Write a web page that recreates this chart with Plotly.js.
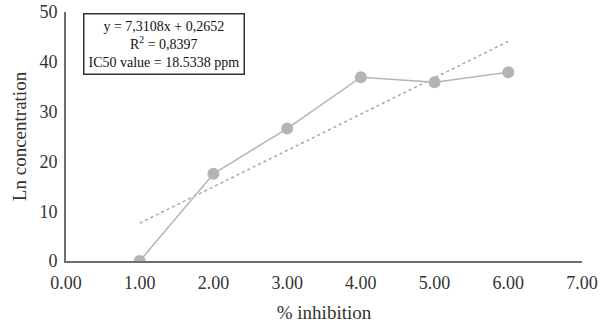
<!DOCTYPE html>
<html><head><meta charset="utf-8">
<script src="https://cdn.plot.ly/plotly-3.0.1.min.js"></script>
<style>body{margin:0;background:#fff}#c{width:600px;height:326px}</style>
</head><body><div id="c"></div>
<script>
const xVals = [1, 2, 3, 4, 5, 6];
const yVals = [0, 17.5, 26.6, 36.9, 35.9, 37.9];
const trendX = [1, 6];
const trendY = [7.6, 44.1];
const xTicks = [0, 1, 2, 3, 4, 5, 6, 7];
const xTickText = ["0.00","1.00","2.00","3.00","4.00","5.00","6.00","7.00"];
const yTicks = [0, 10, 20, 30, 40, 50];
const boxText = "y = 7,3108x + 0,2652<br>R<sup>2</sup> = 0,8397<br>IC50 value = 18.5338 ppm";

const font = "Liberation Serif, Times New Roman, serif";
const data = [
  {x: trendX, y: trendY, mode: 'lines', line: {color: '#a6a6a6', width: 1.5, dash: 'dot'}, hoverinfo: 'skip'},
  {x: xVals, y: yVals, mode: 'lines+markers', line: {color: '#b4b4b4', width: 1.5},
   marker: {color: '#b4b4b4', size: 12}}
];
const layout = {
  width: 600, height: 326,
  margin: {l: 66, r: 18, t: 12, b: 65},
  paper_bgcolor: '#fff', plot_bgcolor: '#fff',
  showlegend: false,
  font: {family: font, color: '#333', size: 18},
  xaxis: {range: [0, 7], tickvals: xTicks, ticktext: xTickText, showgrid: false, zeroline: false,
    showline: true, linecolor: '#6e6e6e', linewidth: 2, ticks: '', ticklen: 0, ticklabelstandoff: 4,
    tickfont: {size: 18, family: font, color: '#333'},
    title: {text: '% inhibition', font: {size: 19, family: font, color: '#333'}, standoff: 14}},
  yaxis: {range: [0, 50], tickvals: yTicks, showgrid: false, zeroline: false,
    showline: true, linecolor: '#6e6e6e', linewidth: 2, ticks: '', ticklabelstandoff: 3,
    tickfont: {size: 18, family: font, color: '#333'},
    title: {text: 'Ln concentration', font: {size: 19, family: font, color: '#333'}, standoff: 8}},
  annotations: [{
    xref: 'paper', yref: 'paper', x: 0.19, y: 0.996, xanchor: 'center', yanchor: 'top',
    text: boxText, showarrow: false, align: 'center',
    font: {size: 14, family: font, color: '#111'},
    bordercolor: '#333', borderwidth: 1.5, borderpad: 4, bgcolor: '#fff'
  }]
};
Plotly.newPlot('c', data, layout, {displayModeBar: false, staticPlot: true});
</script></body></html>
